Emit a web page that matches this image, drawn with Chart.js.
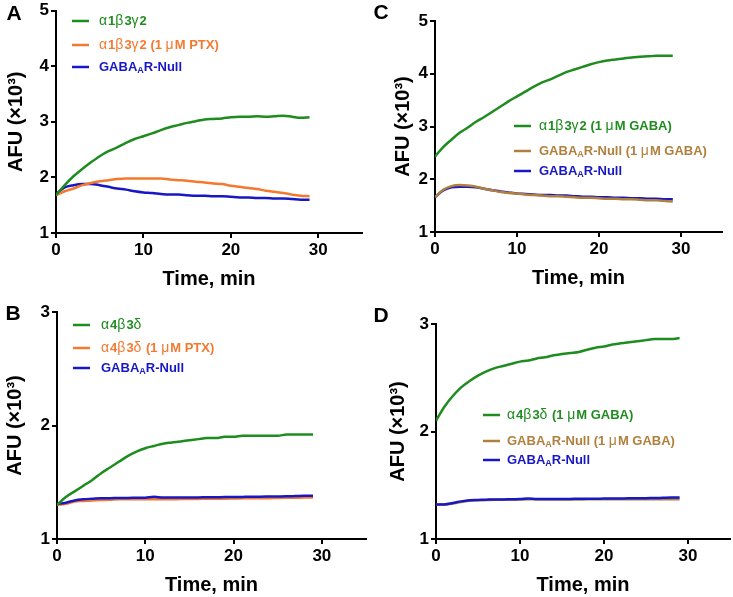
<!DOCTYPE html>
<html>
<head>
<meta charset="utf-8">
<script src="https://cdn.jsdelivr.net/npm/chart.js@4.4.1/dist/chart.umd.min.js"></script>
<style>
  body { margin: 0; background: #fff; }
  #wrap { position: relative; width: 733px; height: 597px; overflow: hidden; }
  canvas { position: absolute; }
</style>
</head>
<body>
<div id="wrap">
  <canvas id="chartA" width="368" height="291" style="left:0px;top:0px"></canvas>
  <canvas id="chartB" width="368" height="299" style="left:0px;top:298px"></canvas>
  <canvas id="chartC" width="367" height="290" style="left:366px;top:0px"></canvas>
  <canvas id="chartD" width="367" height="299" style="left:366px;top:298px"></canvas>
</div>
<script>
// time points (min)
const times = [0,1,2,3,4,5,6,7,8,9,10,11,12,13,14,15,16,17,18,19,20,21,22,23,24,25,26,27,28,29];
const xTicks = [0, 10, 20, 30];
const yTicksAC = [1, 2, 3, 4, 5];
const yTicksBD = [1, 2, 3];

// panel A - AFU x10^3
const labelsA = ['α1β3γ2', 'α1β3γ2 (1 μM PTX)', 'GABA_AR-Null'];
const a_a1b3g2 = [1.68,1.86,2.02,2.15,2.27,2.38,2.47,2.54,2.62,2.69,2.74,2.79,2.85,2.90,2.94,2.98,3.01,3.04,3.05,3.06,3.08,3.09,3.09,3.10,3.09,3.10,3.11,3.09,3.07,3.08];
const a_ptx = [1.68,1.75,1.80,1.86,1.90,1.93,1.95,1.97,1.98,1.98,1.98,1.98,1.98,1.96,1.95,1.94,1.92,1.91,1.89,1.88,1.85,1.83,1.81,1.79,1.76,1.74,1.72,1.69,1.67,1.66];
const a_null = [1.70,1.82,1.86,1.88,1.88,1.86,1.83,1.80,1.78,1.75,1.73,1.72,1.70,1.69,1.69,1.68,1.67,1.67,1.66,1.66,1.65,1.64,1.64,1.63,1.63,1.62,1.62,1.61,1.60,1.60];

// panel B
const labelsB = ['α4β3δ', 'α4β3δ (1 μM PTX)', 'GABA_AR-Null'];
const b_a4b3d = [1.30,1.37,1.42,1.47,1.52,1.58,1.63,1.68,1.73,1.77,1.80,1.82,1.84,1.85,1.86,1.87,1.88,1.89,1.89,1.90,1.90,1.91,1.91,1.91,1.91,1.91,1.92,1.92,1.92,1.92];
const b_ptx = [1.30,1.31,1.33,1.335,1.34,1.343,1.345,1.35,1.35,1.35,1.35,1.35,1.35,1.35,1.352,1.352,1.353,1.355,1.355,1.355,1.357,1.358,1.36,1.36,1.36,1.362,1.363,1.364,1.365,1.365];
const b_null = [1.31,1.32,1.34,1.35,1.355,1.36,1.36,1.362,1.362,1.363,1.364,1.372,1.365,1.366,1.366,1.366,1.366,1.368,1.368,1.369,1.369,1.371,1.373,1.373,1.374,1.375,1.376,1.378,1.38,1.38];

// panel C
const labelsC = ['α1β3γ2 (1 μM GABA)', 'GABA_AR-Null (1 μM GABA)', 'GABA_AR-Null'];
const c_a1b3g2 = [2.43,2.61,2.75,2.88,2.98,3.09,3.18,3.28,3.38,3.48,3.57,3.66,3.75,3.83,3.89,3.96,4.03,4.08,4.13,4.18,4.22,4.25,4.27,4.29,4.31,4.32,4.33,4.34,4.34,4.34];
const c_nullGaba = [1.66,1.80,1.87,1.89,1.88,1.86,1.82,1.79,1.76,1.74,1.73,1.71,1.70,1.69,1.68,1.68,1.67,1.66,1.65,1.65,1.64,1.63,1.63,1.62,1.62,1.61,1.60,1.60,1.59,1.58];
const c_null = [1.66,1.79,1.85,1.86,1.86,1.85,1.82,1.79,1.77,1.75,1.73,1.72,1.71,1.70,1.70,1.69,1.69,1.68,1.67,1.67,1.66,1.66,1.65,1.65,1.64,1.64,1.63,1.63,1.62,1.62];

// panel D
const labelsD = ['α4β3δ (1 μM GABA)', 'GABA_AR-Null (1 μM GABA)', 'GABA_AR-Null'];
const d_a4b3d = [2.10,2.23,2.33,2.41,2.47,2.52,2.56,2.59,2.61,2.63,2.65,2.66,2.68,2.69,2.71,2.72,2.73,2.74,2.76,2.78,2.79,2.81,2.82,2.83,2.84,2.85,2.86,2.86,2.86,2.87];
const d_nullGaba = [1.32,1.32,1.33,1.345,1.355,1.36,1.362,1.364,1.365,1.366,1.367,1.37,1.368,1.368,1.367,1.367,1.368,1.368,1.369,1.369,1.37,1.37,1.37,1.37,1.37,1.37,1.37,1.37,1.37,1.37];
const d_null = [1.32,1.322,1.335,1.35,1.36,1.363,1.366,1.368,1.368,1.37,1.371,1.376,1.372,1.372,1.373,1.372,1.373,1.374,1.375,1.375,1.376,1.376,1.377,1.378,1.378,1.38,1.381,1.383,1.385,1.386];

const GREEN = '#1e8c1e';
const ORANGE = '#f4792f';
const BLUE = '#1717c4';
const BROWN = '#b0803c';
const FONT = '"Liberation Sans", Arial, sans-serif';

// draws a label, greek letters in normal weight, "_X" as subscript
function drawRich(ctx, text, x, y, color) {
    ctx.fillStyle = color;
    ctx.textAlign = 'left';
    ctx.textBaseline = 'middle';
    let cx = x;
    for (let i = 0; i < text.length; i++) {
        let ch = text[i];
        let dy = 0;
        if (ch === '_') {
            i++;
            ch = text[i];
            ctx.font = 'bold 9px ' + FONT;
            dy = 4;
        } else if (/[\u0370-\u03ff]/.test(ch)) {
            ctx.font = '14px ' + FONT;
        } else {
            ctx.font = 'bold 13px ' + FONT;
        }
        ctx.fillText(ch, cx, y + dy);
        cx += ctx.measureText(ch).width + (/[\u0370-\u03ff]/.test(ch) ? 1 : 0);
    }
}

const panelText = {
    id: 'panelText',
    afterDraw(chart, args, opts) {
        const ctx = chart.ctx;
        ctx.save();
        ctx.font = 'bold 21px ' + FONT;
        ctx.fillStyle = '#000';
        ctx.textAlign = 'center';
        ctx.textBaseline = 'middle';
        ctx.fillText(opts.letter, opts.letterX, opts.letterY);
        chart.data.datasets.forEach((ds, i) => {
            const y = opts.rows[i];
            ctx.strokeStyle = ds.borderColor;
            ctx.lineWidth = 2.5;
            ctx.beginPath();
            ctx.moveTo(opts.lineX, y);
            ctx.lineTo(opts.lineX + 17, y);
            ctx.stroke();
            drawRich(ctx, ds.label, opts.textX, y, ds.borderColor);
        });
        ctx.restore();
    }
};

function makeDataset(label, values, color, order) {
    return {
        label: label,
        data: times.map((t, i) => ({ x: t, y: values[i] })),
        borderColor: color,
        borderWidth: 2.5,
        pointRadius: 0,
        fill: false,
        cubicInterpolationMode: 'monotone',
        order: order || 0,
    };
}

function drawPanel(id, datasets, yMax, yTicks, p) {
    const ctx = document.getElementById(id).getContext('2d');
    return new Chart(ctx, {
        type: 'line',
        data: { datasets: datasets },
        plugins: [panelText],
        options: {
            responsive: false,
            animation: false,
            layout: { padding: { left: p.padLeft, top: p.padTop, right: p.padRight, bottom: 0 } },
            plugins: {
                legend: { display: false },
                tooltip: { enabled: false },
                panelText: p.legend,
            },
            scales: {
                x: {
                    type: 'linear',
                    min: 0,
                    max: 35,
                    afterBuildTicks: (s) => { s.ticks = xTicks.map(v => ({ value: v })); },
                    afterFit: (s) => { s.height = 58; },
                    grid: { display: true, drawOnChartArea: false, drawTicks: true, tickLength: 5, color: '#000', lineWidth: 2 },
                    border: { display: true, color: '#000', width: 2 },
                    ticks: { color: '#000', font: { family: FONT, size: 17, weight: 'bold', lineHeight: 1 }, padding: 4, maxRotation: 0, autoSkip: false },
                    title: { display: true, text: 'Time, min', color: '#000', font: { family: FONT, size: 20, weight: 'bold' }, padding: 0 },
                },
                y: {
                    min: 1,
                    max: yMax,
                    afterBuildTicks: (s) => { s.ticks = yTicks.map(v => ({ value: v })); },
                    afterFit: (s) => { s.width = p.yWidth; },
                    grid: { display: true, drawOnChartArea: false, drawTicks: true, tickLength: 5, color: '#000', lineWidth: 2 },
                    border: { display: true, color: '#000', width: 2 },
                    ticks: { color: '#000', font: { family: FONT, size: 17, weight: 'bold', lineHeight: 1 }, padding: 2 },
                    title: { display: true, text: 'AFU (×10³)', color: '#000', font: { family: FONT, size: 20, weight: 'bold' }, padding: 0 },
                },
            },
        },
    });
}

drawPanel('chartA', [
    makeDataset(labelsA[0], a_a1b3g2, GREEN),
    makeDataset(labelsA[1], a_ptx, ORANGE),
    makeDataset(labelsA[2], a_null, BLUE),
], 5, yTicksAC, {
    padLeft: 4, padTop: 8, padRight: 6, yWidth: 52,
    legend: { letter: 'A', letterX: 14, letterY: 14, lineX: 72, textX: 99, rows: [21, 45, 67] },
});

drawPanel('chartB', [
    makeDataset(labelsB[0], b_a4b3d, GREEN),
    makeDataset(labelsB[1], b_ptx, ORANGE, 1),
    makeDataset(labelsB[2], b_null, BLUE),
], 3, yTicksBD, {
    padLeft: 3, padTop: 14, padRight: 2, yWidth: 54,
    legend: { letter: 'B', letterX: 13, letterY: 16, lineX: 73, textX: 101, rows: [27, 50, 70] },
});

drawPanel('chartC', [
    makeDataset(labelsC[0], c_a1b3g2, GREEN),
    makeDataset(labelsC[1], c_nullGaba, BROWN),
    makeDataset(labelsC[2], c_null, BLUE),
], 5, yTicksAC, {
    padLeft: 25, padTop: 21, padRight: 11, yWidth: 44,
    legend: { letter: 'C', letterX: 15, letterY: 13, lineX: 148, textX: 173, rows: [126, 151, 171] },
});

drawPanel('chartD', [
    makeDataset(labelsD[0], d_a4b3d, GREEN),
    makeDataset(labelsD[1], d_nullGaba, BROWN, 1),
    makeDataset(labelsD[2], d_null, BLUE),
], 3, yTicksBD, {
    padLeft: 20, padTop: 26, padRight: 3, yWidth: 50,
    legend: { letter: 'D', letterX: 15, letterY: 18, lineX: 117, textX: 141, rows: [117, 143, 162] },
});
</script>
</body>
</html>
